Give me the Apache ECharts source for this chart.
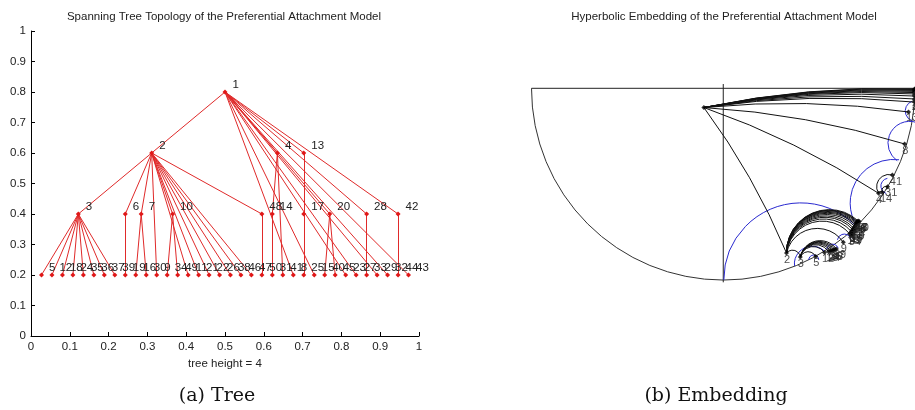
<!DOCTYPE html>
<html>
<head>
<meta charset="utf-8">
<script src="https://cdn.jsdelivr.net/npm/echarts@6/dist/echarts.min.js"></script>
<style>
html, body { margin: 0; padding: 0; background: #fff; }
#main { width: 915px; height: 410px; }
</style>
</head>
<body>
<div id="main"></div>
<script>
// ---- (a) spanning tree ----
// inner nodes: label, x, level
var treeInner = [
    ['1', 0.500, 0.8],
    ['2', 0.311, 0.6], ['4', 0.635, 0.6], ['13', 0.703, 0.6],
    ['3', 0.122, 0.4], ['6', 0.243, 0.4], ['7', 0.284, 0.4], ['10', 0.365, 0.4],
    ['48', 0.595, 0.4], ['14', 0.622, 0.4], ['17', 0.703, 0.4], ['20', 0.770, 0.4],
    ['28', 0.865, 0.4], ['42', 0.946, 0.4]
];
var leafLabels = ['5', '12', '18', '24', '35', '36', '37', '39', '19', '16', '30', '9',
    '34', '49', '11', '21', '22', '26', '38', '46', '47', '50', '31', '41', '8', '25',
    '15', '40', '45', '23', '27', '33', '29', '32', '44', '43'];
var leafX = [0.027, 0.054, 0.081, 0.108, 0.135, 0.162, 0.189, 0.216, 0.243, 0.270,
    0.297, 0.324, 0.351, 0.378, 0.405, 0.432, 0.459, 0.486, 0.514, 0.541, 0.568, 0.595,
    0.622, 0.649, 0.676, 0.703, 0.730, 0.757, 0.784, 0.811, 0.838, 0.865, 0.892, 0.919,
    0.946, 0.973];
var leafLevel = 0.2;
// parent, child
var treeEdges = [
    ['1', '2'], ['1', '4'], ['1', '13'], ['1', '20'], ['1', '28'], ['1', '42'],
    ['1', '8'], ['1', '15'], ['1', '23'], ['1', '27'], ['1', '29'], ['1', '32'], ['1', '43'],
    ['2', '3'], ['2', '6'], ['2', '7'], ['2', '10'], ['2', '48'], ['2', '9'], ['2', '11'],
    ['2', '21'], ['2', '22'], ['2', '26'], ['2', '38'], ['2', '46'], ['2', '47'],
    ['4', '14'], ['4', '41'], ['13', '17'],
    ['3', '5'], ['3', '12'], ['3', '18'], ['3', '24'], ['3', '35'], ['3', '36'], ['3', '37'], ['3', '39'],
    ['6', '19'], ['7', '16'], ['7', '30'], ['10', '34'], ['10', '49'], ['48', '50'],
    ['14', '31'], ['17', '25'], ['20', '40'], ['20', '45'], ['28', '33'], ['42', '44']
];
var treeTicks = ['0', '0.1', '0.2', '0.3', '0.4', '0.5', '0.6', '0.7', '0.8', '0.9', '1'];

// ---- (b) hyperbolic embedding (unit disk coords) ----
var embNodes = [
    ['1', -0.101, -0.099],
    ['2', 0.330, -0.849], ['3', 0.402, -0.870], ['5', 0.482, -0.867], ['12', 0.528, -0.846],
    ['18', 0.549, -0.841], ['24', 0.559, -0.839], ['35', 0.567, -0.836], ['36', 0.575, -0.834],
    ['37', 0.582, -0.831], ['39', 0.590, -0.828],
    ['9', 0.626, -0.794], ['10', 0.660, -0.751], ['34', 0.668, -0.759], ['49', 0.673, -0.754],
    ['6', 0.668, -0.738], ['19', 0.675, -0.743], ['7', 0.675, -0.728], ['16', 0.683, -0.733],
    ['30', 0.686, -0.728], ['11', 0.680, -0.720], ['21', 0.686, -0.712], ['22', 0.691, -0.705],
    ['26', 0.693, -0.699], ['38', 0.696, -0.694], ['46', 0.698, -0.689], ['47', 0.701, -0.687],
    ['48', 0.704, -0.684], ['50', 0.709, -0.687],
    ['4', 0.810, -0.541], ['14', 0.830, -0.537], ['31', 0.857, -0.507], ['41', 0.882, -0.447],
    ['8', 0.946, -0.287], ['13', 0.966, -0.122],
    ['15', 0.998, -0.006], ['20', 0.998, -0.011], ['23', 0.998, -0.016], ['27', 0.998, -0.022],
    ['28', 0.998, -0.029], ['29', 0.998, -0.040], ['32', 0.998, -0.055], ['42', 0.998, -0.071],
    ['43', 0.998, -0.003]
];
var embUnlabelled = ['1'];
// sagitta / chord of each geodesic, by parent
var embBend = { '1': 0.03, '2': 0.33, '3': 0.33, '4': 0.35, '14': 0.35, '6': 0.3, '7': 0.3, '10': 0.3, '48': 0.3 };
// blue geodesics: cx, cy, r, from deg, to deg
var blueArcs = [
    [0.405, -0.988, 0.402, 46, 180],
    [0.889, -0.591, 0.227, 83, 205],
    [0.972, -0.282, 0.113, 70, 235],
    [1.003, -0.117, 0.054, 110, 250],
    [0.863, -0.504, 0.041, 100, 250],
    [0.464, -0.906, 0.093, 48, 186],
    [0.472, -0.885, 0.026, 0, 180],
    [0.570, -0.834, 0.031, 20, 170],
    [0.631, -0.787, 0.036, 20, 170]
];
var diskArcs = [[0, 0, 1, 180, 360]];
var diskLines = [[-1, 0, 1.05, 0, 0], [0, 0.022, 0, -1, 0]];

var font = 'Liberation Sans, Arial, Helvetica, sans-serif';
var ink = '#222';

var treeData = treeInner.map(function (n) {
    return { name: n[0], value: [n[1], n[2]] };
}).concat(leafLabels.map(function (l, i) {
    return { name: l, value: [leafX[i], leafLevel] };
}));
var treeLinks = treeEdges.map(function (e) {
    return { source: e[0], target: e[1] };
});

var embPos = {};
embNodes.forEach(function (n) { embPos[n[0]] = [n[1], n[2]]; });
var embEdgeData = [];
treeEdges.forEach(function (e) {
    var a = embPos[e[0]], b = embPos[e[1]];
    if (a && b) embEdgeData.push([a[0], a[1], b[0], b[1], embBend[e[0]] || 0]);
});

function renderEdge(params, api) {
    var p1 = api.coord([api.value(0), api.value(1)]);
    var p2 = api.coord([api.value(2), api.value(3)]);
    var bend = api.value(4);
    var ux = p2[0] - p1[0], uy = p2[1] - p1[1];
    var c = Math.sqrt(ux * ux + uy * uy);
    var s = Math.abs(bend) * c;
    var d;
    if (s < 0.3) {
        d = 'M' + p1[0] + ' ' + p1[1] + ' L' + p2[0] + ' ' + p2[1];
    } else {
        var R = (c * c / 4 + s * s) / (2 * s);
        d = 'M' + p1[0] + ' ' + p1[1] + ' A' + R + ' ' + R + ' 0 ' + (s > c / 2 ? 1 : 0) + ' ' +
            (bend > 0 ? 1 : 0) + ' ' + p2[0] + ' ' + p2[1];
    }
    return {
        type: 'path',
        shape: { pathData: d },
        style: { stroke: api.visual('color'), fill: 'none', lineWidth: 1 }
    };
}

function renderArc(params, api) {
    var c = api.coord([api.value(0), api.value(1)]);
    var r = api.size([api.value(2), 0])[0];
    var a0 = api.value(3) * Math.PI / 180;
    var a1 = api.value(4) * Math.PI / 180;
    return {
        type: 'arc',
        shape: { cx: c[0], cy: c[1], r: r, startAngle: -a0, endAngle: -a1, clockwise: false },
        style: { stroke: api.visual('color'), fill: 'none', lineWidth: 1 }
    };
}

var chart = echarts.init(document.getElementById('main'));
var option = {
    animation: false,
    backgroundColor: '#fff',
    textStyle: { fontFamily: font },
    title: [
        { text: 'Spanning Tree Topology of the Preferential Attachment Model', left: 224, top: 11,
          textAlign: 'center', padding: 0,
          textStyle: { fontSize: 11.5, fontWeight: 'normal', color: ink, fontFamily: font } },
        { text: 'Hyperbolic Embedding of the Preferential Attachment Model', left: 724, top: 11,
          textAlign: 'center', padding: 0,
          textStyle: { fontSize: 11.5, fontWeight: 'normal', color: ink, fontFamily: font } },
        { text: '(a) Tree', left: 217, top: 387, textAlign: 'center', padding: 0,
          textStyle: { fontSize: 19, fontWeight: 'normal', color: '#111', fontFamily: 'DejaVu Serif' } },
        { text: '(b) Embedding', left: 716, top: 387, textAlign: 'center', padding: 0,
          textStyle: { fontSize: 19, fontWeight: 'normal', color: '#111', fontFamily: 'DejaVu Serif' } }
    ],
    grid: [
        { left: 31, top: 31, width: 388, height: 305 },
        { left: 531.5, top: 78.6, width: 388, height: 203.7 }
    ],
    xAxis: [
        {
            gridIndex: 0, type: 'value', min: 0, max: 1, interval: 0.1,
            name: 'tree height = 4', nameLocation: 'middle', nameGap: 17,
            nameTextStyle: { fontSize: 11.5, color: ink, fontFamily: font },
            axisLine: { show: true, lineStyle: { color: '#000', width: 1 } },
            axisTick: { show: true, inside: true, length: 4, lineStyle: { color: '#000' } },
            axisLabel: { fontSize: 11.5, color: ink, margin: 5,
                formatter: function (v) { return treeTicks[Math.round(v * 10)]; } },
            splitLine: { show: false }
        },
        { gridIndex: 1, type: 'value', min: -1, max: 1, show: false, splitLine: { show: false } }
    ],
    yAxis: [
        {
            gridIndex: 0, type: 'value', min: 0, max: 1, interval: 0.1,
            axisLine: { show: true, lineStyle: { color: '#000', width: 1 } },
            axisTick: { show: true, inside: true, length: 4, lineStyle: { color: '#000' } },
            axisLabel: { fontSize: 11.5, color: ink, margin: 5,
                formatter: function (v) { return treeTicks[Math.round(v * 10)]; } },
            splitLine: { show: false }
        },
        { gridIndex: 1, type: 'value', min: -1, max: 0.05, show: false, splitLine: { show: false } }
    ],
    series: [
        {
            type: 'graph', coordinateSystem: 'cartesian2d', xAxisIndex: 0, yAxisIndex: 0,
            layout: 'none', roam: false, silent: true,
            symbol: 'diamond', symbolSize: 5,
            itemStyle: { color: '#e01818' },
            lineStyle: { color: '#e02a2a', width: 1, opacity: 1, curveness: 0 },
            label: { show: true, position: 'right', distance: 5, offset: [0, -7],
                fontSize: 11.5, color: ink, fontFamily: font, formatter: '{b}' },
            data: treeData,
            links: treeLinks
        },
        {
            type: 'custom', xAxisIndex: 1, yAxisIndex: 1, silent: true,
            itemStyle: { color: '#333' },
            renderItem: renderArc, data: diskArcs
        },
        {
            type: 'custom', xAxisIndex: 1, yAxisIndex: 1, silent: true,
            itemStyle: { color: '#222' },
            renderItem: renderEdge, data: diskLines
        },
        {
            type: 'custom', xAxisIndex: 1, yAxisIndex: 1, silent: true,
            itemStyle: { color: '#2a2ad0' },
            renderItem: renderArc, data: blueArcs
        },
        {
            type: 'custom', xAxisIndex: 1, yAxisIndex: 1, silent: true,
            itemStyle: { color: '#111' },
            renderItem: renderEdge, data: embEdgeData
        },
        {
            type: 'scatter', xAxisIndex: 1, yAxisIndex: 1, silent: true,
            symbol: 'diamond', symbolSize: 5,
            itemStyle: { color: '#000' },
            label: { show: true, position: [0, 9], align: 'left', verticalAlign: 'middle',
                fontSize: 11, color: ink, fontFamily: font, formatter: '{b}' },
            data: embNodes.map(function (n) {
                var item = { name: n[0], value: [n[1], n[2]] };
                if (embUnlabelled.indexOf(n[0]) >= 0) item.label = { show: false };
                return item;
            })
        }
    ]
};
chart.setOption(option);
</script>
</body>
</html>
